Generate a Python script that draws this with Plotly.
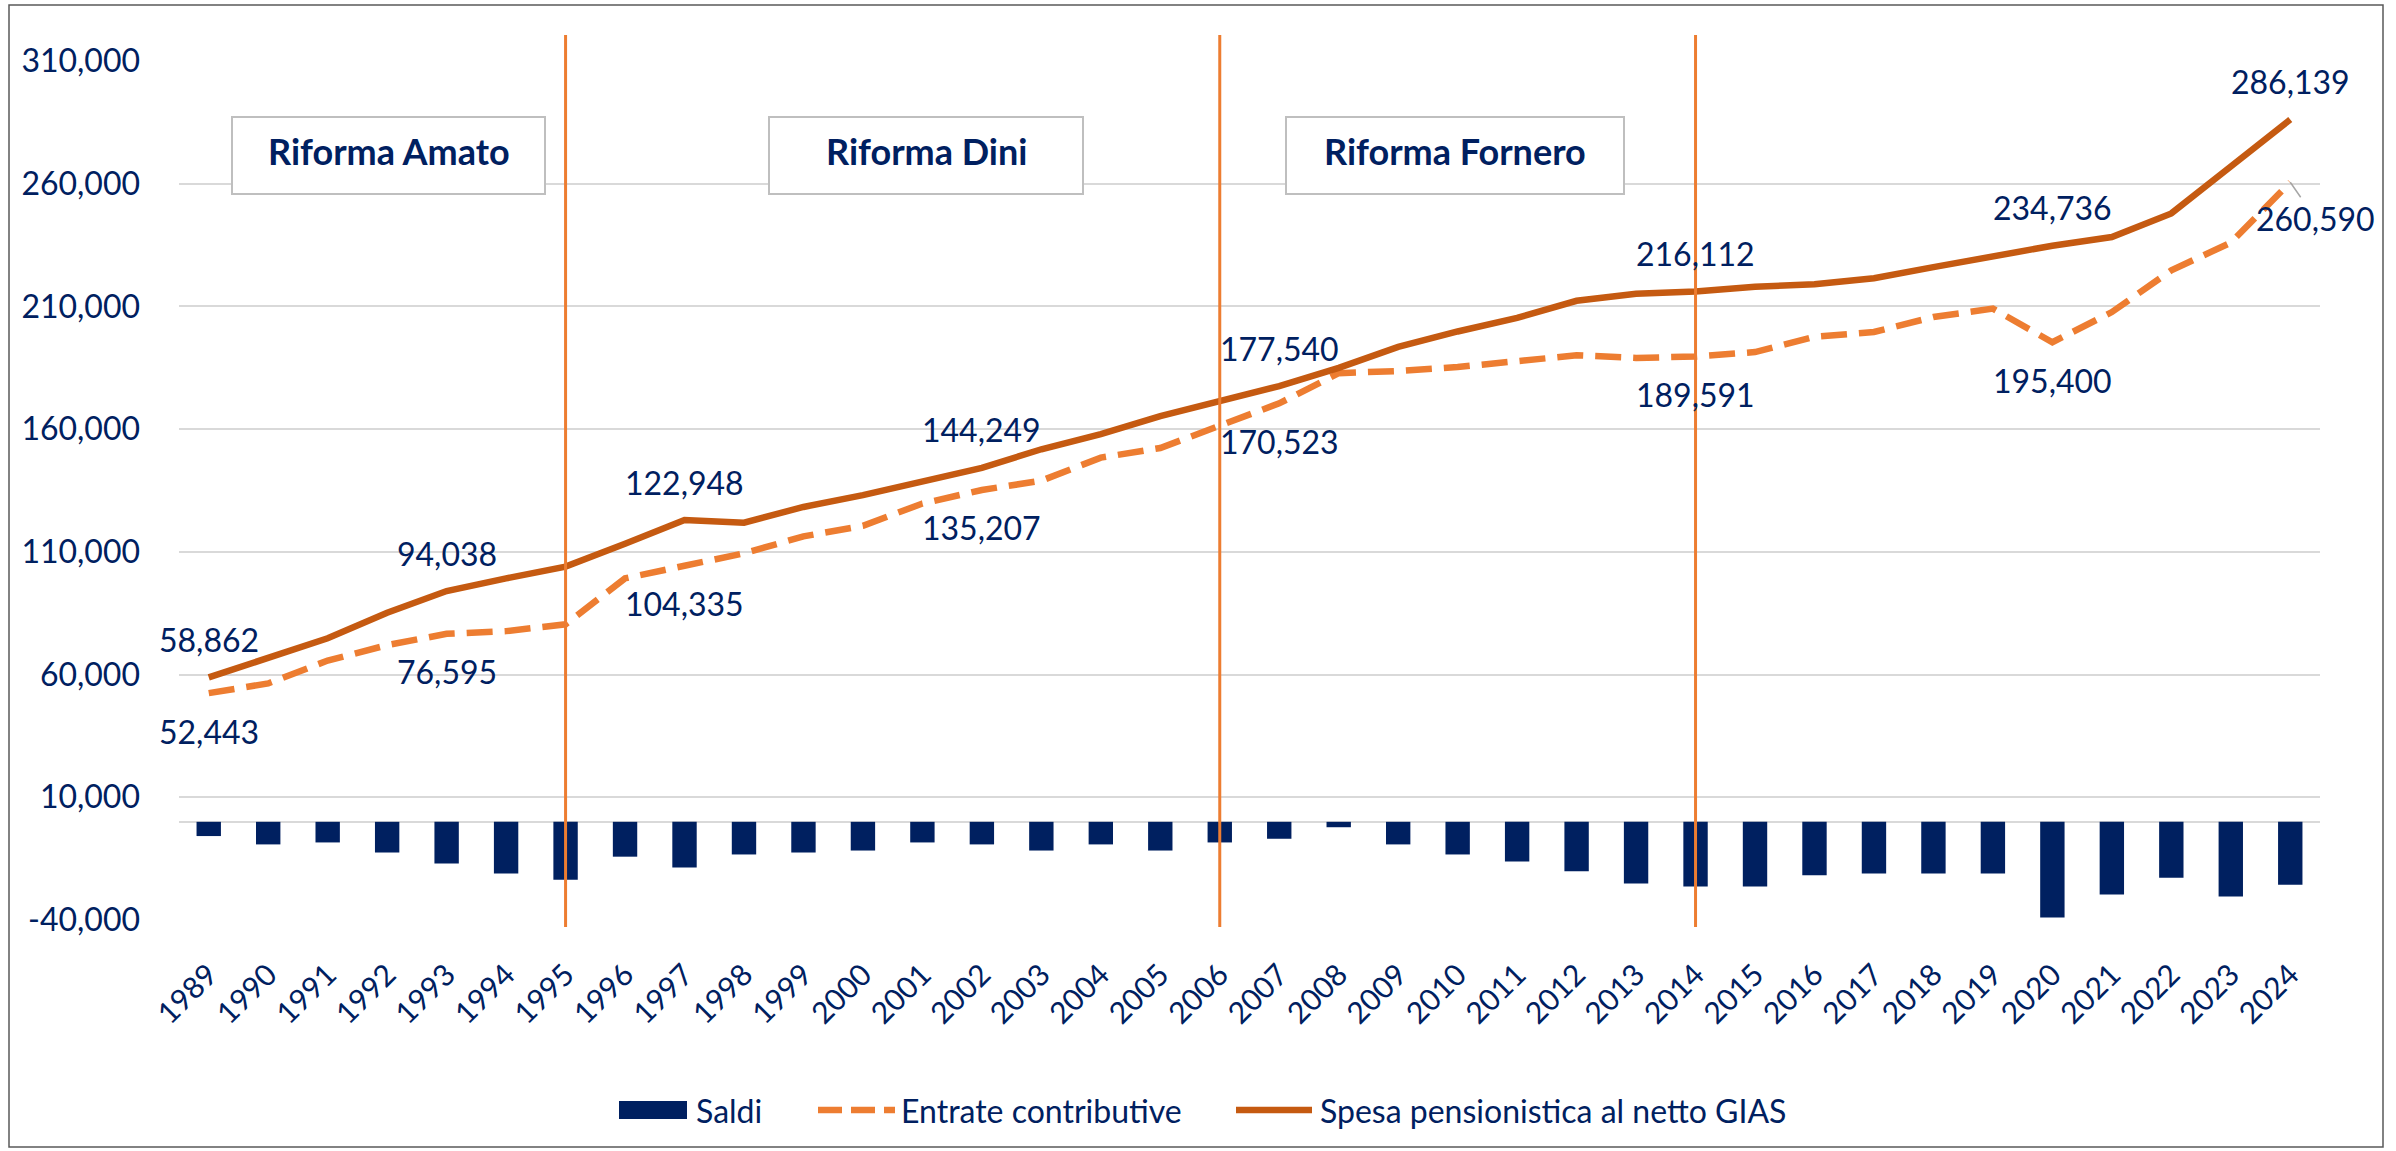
import plotly.graph_objects as go

# ---------------- data ----------------
years = [1989, 1990, 1991, 1992, 1993, 1994, 1995, 1996, 1997, 1998, 1999, 2000,
         2001, 2002, 2003, 2004, 2005, 2006, 2007, 2008, 2009, 2010, 2011, 2012,
         2013, 2014, 2015, 2016, 2017, 2018, 2019, 2020, 2021, 2022, 2023, 2024]

spesa = [58862, 66900, 74800, 85200, 94038, 99200, 104000, 113300, 122948, 121900,
         128300, 133100, 138700, 144249, 151800, 158000, 165300, 171500, 177540, 185000,
         193500, 199800, 205300, 212300, 215200, 216112, 218000, 219000, 221500, 226000,
         230500, 234736, 238300, 247900, 267000, 286139]

entrate = [52443, 56400, 65700, 72000, 76595, 77700, 80500, 99200, 104335, 109400,
           116300, 120600, 129700, 135207, 139000, 148400, 152300, 161600, 170523, 182800,
           183700, 185300, 187400, 190100, 189000, 189591, 191400, 197600, 199600, 205700,
           209100, 195400, 207700, 224700, 236000, 260590]

saldi = [-5800, -9200, -8400, -12500, -17000, -21100, -23600, -14200, -18600, -13300,
         -12500, -11700, -8400, -9200, -11700, -9200, -11700, -8400, -6900, -2200,
         -9200, -13300, -16200, -20100, -25100, -26400, -26400, -21800, -21100, -21100,
         -21100, -39000, -29600, -22800, -30400, -25600]

y_tick_vals = [-40000, 10000, 60000, 110000, 160000, 210000, 260000, 310000]
y_tick_text = ["-40,000", "10,000", "60,000", "110,000", "160,000", "210,000", "260,000", "310,000"]

reform_years = [1995, 2006, 2014]
reform_names = ["Riforma Amato", "Riforma Dini", "Riforma Fornero"]

label_years = [1989, 1993, 1997, 2002, 2007, 2014, 2020, 2024]

series_names = ["Saldi", "Entrate contributive", "Spesa pensionistica al netto GIAS"]

# ---------------- styling / layout geometry ----------------
NAVY = "#002060"
ORANGE = "#ED7D31"
DARK_ORANGE = "#C55A11"
GRID = "#D9D9D9"
FONT = "Lato"
DASH = "26px,12px"

W, H = 2396, 1151
ML, MR, MT, MB = 179, 76, 61, 231
PW = W - ML - MR
PH = H - MT - MB


def px(x):
    return (x - ML) / PW


def py(y):
    return (H - MB - y) / PH


fig = go.Figure()

fig.add_trace(go.Bar(
    x=years, y=saldi, name=series_names[0],
    marker=dict(color=NAVY, line=dict(width=0)),
    width=0.41, showlegend=False,
))

fig.add_trace(go.Scatter(
    x=years, y=entrate, name=series_names[1], mode="lines",
    line=dict(color=ORANGE, width=6.5, dash=DASH), showlegend=False,
))

fig.add_trace(go.Scatter(
    x=years, y=spesa, name=series_names[2], mode="lines",
    line=dict(color=DARK_ORANGE, width=6.5), showlegend=False,
))

shapes = []
annotations = []

# outer chart border
shapes.append(dict(type="rect", xref="paper", yref="paper",
                   x0=px(9), x1=px(2383), y0=py(1147), y1=py(5),
                   line=dict(color="#595959", width=1.5), fillcolor="rgba(0,0,0,0)",
                   layer="below"))

# reform vertical lines
for ry in reform_years:
    shapes.append(dict(type="line", xref="x", yref="paper",
                       x0=ry, x1=ry, y0=py(927), y1=py(35),
                       line=dict(color=ORANGE, width=3), layer="above"))

# reform boxes
box_px = [(232, 545), (769, 1083), (1286, 1624)]
for (bx0, bx1), name in zip(box_px, reform_names):
    shapes.append(dict(type="rect", xref="paper", yref="paper",
                       x0=px(bx0), x1=px(bx1), y0=py(194), y1=py(117),
                       line=dict(color="#BFBFBF", width=2), fillcolor="white",
                       layer="above"))
    annotations.append(dict(xref="paper", yref="paper",
                            x=px((bx0 + bx1) / 2), y=py(151),
                            text=f"<b>{name}</b>", showarrow=False,
                            xanchor="center", yanchor="middle",
                            font=dict(family=FONT, size=36, color=NAVY)))

# data labels
for yr in label_years:
    i = years.index(yr)
    annotations.append(dict(x=yr, y=spesa[i], text=f"{spesa[i]:,}", showarrow=False,
                            yshift=38, xanchor="center", yanchor="middle",
                            font=dict(family=FONT, size=32, color=NAVY)))
    if yr != 2024:
        annotations.append(dict(x=yr, y=entrate[i], text=f"{entrate[i]:,}", showarrow=False,
                                yshift=-38, xanchor="center", yanchor="middle",
                                font=dict(family=FONT, size=32, color=NAVY)))
    else:
        annotations.append(dict(x=yr, y=entrate[i], text=f"{entrate[i]:,}", showarrow=True,
                                ax=25, ay=36, arrowhead=0, arrowwidth=1.5,
                                arrowcolor="#A6A6A6", standoff=0,
                                font=dict(family=FONT, size=32, color=NAVY)))

# legend (drawn like the original: wide swatches)
LEG_Y = 1110
# Saldi swatch
shapes.append(dict(type="rect", xref="paper", yref="paper",
                   x0=px(619), x1=px(687), y0=py(1119), y1=py(1101),
                   line=dict(width=0), fillcolor=NAVY))
# Entrate swatch
shapes.append(dict(type="line", xref="paper", yref="paper",
                   x0=px(818), x1=px(895), y0=py(LEG_Y), y1=py(LEG_Y),
                   line=dict(color=ORANGE, width=6.5, dash="24px,9px")))
# Spesa swatch
shapes.append(dict(type="line", xref="paper", yref="paper",
                   x0=px(1236), x1=px(1312), y0=py(LEG_Y), y1=py(LEG_Y),
                   line=dict(color=DARK_ORANGE, width=6.5)))
for name, tx in zip(series_names, [694, 899, 1318]):
    annotations.append(dict(xref="paper", yref="paper", x=px(tx), y=py(LEG_Y),
                            text=name, showarrow=False, xanchor="left", yanchor="middle",
                            font=dict(family=FONT, size=32, color=NAVY)))

fig.update_layout(
    width=W, height=H,
    margin=dict(l=ML, r=MR, t=MT, b=MB, pad=0),
    paper_bgcolor="white", plot_bgcolor="white",
    font=dict(family=FONT, color=NAVY),
    barmode="relative",
    shapes=shapes,
    annotations=annotations,
    showlegend=False,
    xaxis=dict(range=[1988.5, 2024.5], tickmode="array", tickvals=years,
               ticktext=[str(y) for y in years], tickangle=-45,
               tickfont=dict(family=FONT, size=30, color=NAVY),
               showgrid=False, zeroline=False, showline=False, ticks="",
               ticklabelstandoff=30),
    yaxis=dict(range=[-40000, 310000], tickmode="array", tickvals=y_tick_vals,
               ticktext=y_tick_text,
               tickfont=dict(family=FONT, size=32, color=NAVY),
               showgrid=True, gridcolor=GRID, gridwidth=1.5,
               zeroline=True, zerolinecolor=GRID, zerolinewidth=1.5,
               showline=False, ticks="", ticklabelstandoff=38),
)

fig.write_html("out.html", config={"displayModeBar": False},
               post_script="document.body.style.margin='0';document.body.style.padding='0';")
